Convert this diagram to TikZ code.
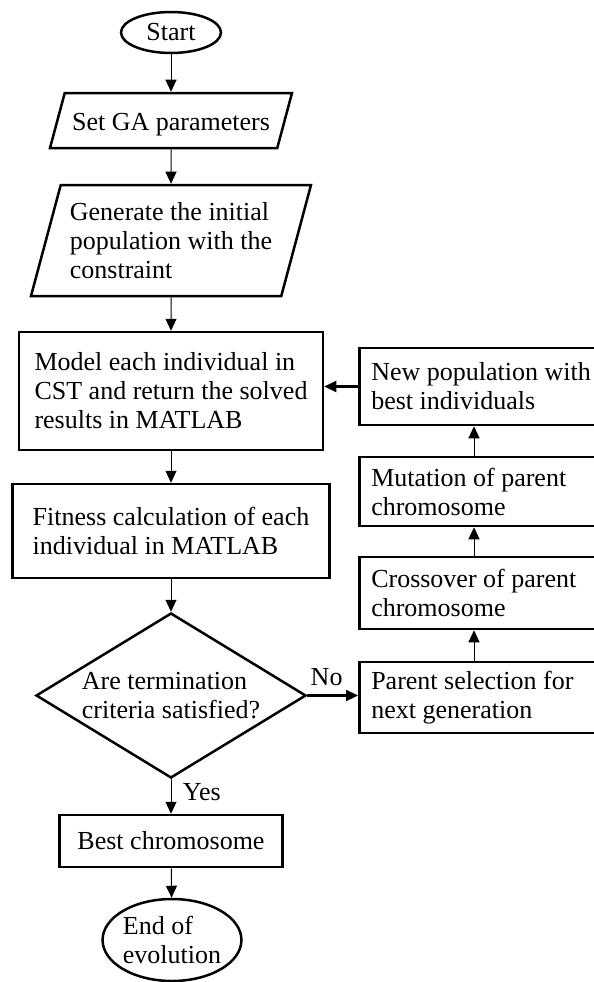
\documentclass[tikz,border=0pt]{standalone}
\usepackage{fontspec}
\setmainfont{Liberation Serif}
\usetikzlibrary{arrows.meta, positioning, shapes.geometric}

\begin{document}
\begin{tikzpicture}[x=1pt, y=-1pt, >={Triangle[length=12pt,width=11pt]},
  font=\fontsize{26}{29}\selectfont,
  term/.style={draw, ellipse, line width=2.5pt, inner sep=0pt},
  io/.style={draw, trapezium, trapezium left angle=75, trapezium right angle=105,
    trapezium stretches body, line width=2.5pt, align=left, inner sep=0pt},
  proc/.style={draw, rectangle, line width=2.5pt, align=left},
  side/.style={draw, rectangle, line width=2.5pt, anchor=west, minimum width=260pt,
    text width=236pt, inner xsep=12pt, align=flush left},
  test/.style={draw, diamond, aspect=1.64, line width=2.5pt, align=left, inner sep=0pt},
  flow/.style={->, line width=1pt},
  back/.style={->, line width=2.2pt}]
  \useasboundingbox (0,0) rectangle (594,982);
  \clip (0,0) rectangle (594,982);

  % main column
  \node[term, minimum width=100pt, minimum height=41pt] (start) at (171,32.5) {Start};
  \node[io, minimum width=242pt, text height=37pt, text depth=18pt] (setga) at (171,120.5) {Set GA parameters};
  \node[io, minimum width=280pt, text height=93pt, text depth=18pt] (initpop) at (171,240.5) {Generate the initial\\population with the\\constraint};
  \node[proc, minimum width=304pt, minimum height=118pt] (model) at (171,391) {Model each individual in\\CST and return the solved\\results in MATLAB};
  \node[proc, minimum width=317pt, minimum height=94pt] (fitness) at (171,531) {Fitness calculation of each\\individual in MATLAB};
  \node[test, minimum width=270pt, minimum height=165pt] (check) at (171,695.5) {Are termination\\criteria satisfied?};
  \node[proc, minimum width=223pt, minimum height=52pt] (best) at (171,841) {Best chromosome};
  \node[term, minimum width=136pt, minimum height=82pt, align=left] (finish) at (172,940) {End of\\evolution};

  % loop column
  \node[side, minimum height=77pt] (newpop) at (358,386.5) {New population with\\best individuals};
  \node[side, minimum height=69pt] (mutate) at (358,491.5) {Mutation of parent\\chromosome};
  \node[side, minimum height=72pt] (cross) at (358,593) {Crossover of parent\\chromosome};
  \node[side, minimum height=71pt] (select) at (358,697.5) {Parent selection for\\next generation};
  \coordinate (up) at (474,0);

  \draw[flow] (start) -- (setga);
  \draw[flow] (setga) -- (initpop);
  \draw[flow] (initpop) -- (model);
  \draw[flow] (model) -- (fitness);
  \draw[flow] (fitness) -- (check);
  \draw[flow] (check) -- (best) node[pos=0.38, right=8pt]{Yes};
  \draw[flow] (best) -- (finish);
  \draw[back] (check.east) -- (check.east -| select.west) node[midway, above=5pt, xshift=-6pt]{No};
  \draw[flow] (select.north -| up) -- (cross.south -| up);
  \draw[flow] (cross.north -| up) -- (mutate.south -| up);
  \draw[flow] (mutate.north -| up) -- (newpop.south -| up);
  \draw[back] (newpop.west) -- (newpop.west -| model.east);
\end{tikzpicture}
\end{document}
